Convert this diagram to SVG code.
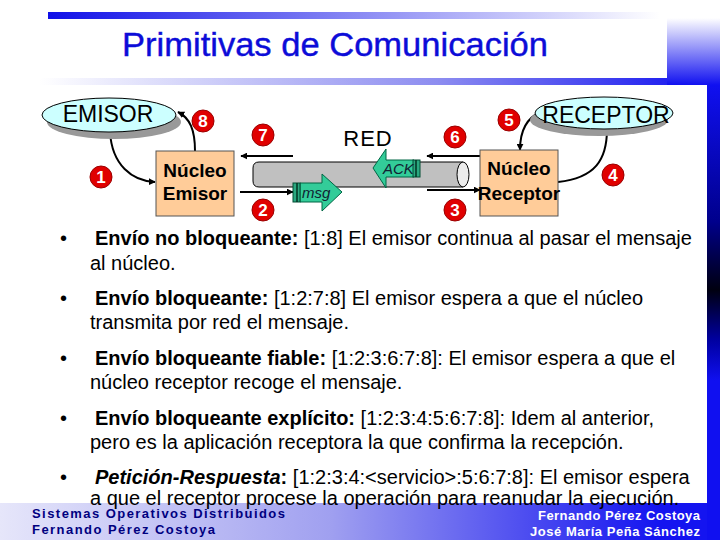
<svg xmlns="http://www.w3.org/2000/svg" width="720" height="540" viewBox="0 0 720 540">
<style>
.t{font-family:"Liberation Sans",Arial,sans-serif}
.b{font-size:20px;fill:#000}
.num{font-family:"Liberation Sans",Arial,sans-serif;font-size:17px;font-weight:bold;fill:#fff;text-anchor:middle}
.dot{fill:#e00000;stroke:#9a0000;stroke-width:1}
.ln{fill:none;stroke:#000;stroke-width:2}
.box{fill:#ffcc99;stroke:#555;stroke-width:1}
.ell{fill:#ccffff;stroke:#000;stroke-width:1}
.sh{fill:#999}
.grn{fill:#33cc99;stroke:#006644;stroke-width:1}
.nk{font-family:"Liberation Sans",Arial,sans-serif;font-size:19px;font-weight:bold;fill:#000;text-anchor:middle}
</style>
<defs>
<marker id="ah" viewBox="0 0 10 10" refX="9" refY="5" markerWidth="7" markerHeight="7" orient="auto" markerUnits="userSpaceOnUse">
<path d="M0,0 L10,5 L0,10 z" fill="#000"/>
</marker>
<linearGradient id="gTop" x1="48" y1="0" x2="660" y2="0" gradientUnits="userSpaceOnUse">
<stop offset="0" stop-color="#1010e8"/><stop offset="1" stop-color="#ffffff"/>
</linearGradient>
<linearGradient id="gUnder" x1="40" y1="0" x2="707" y2="0" gradientUnits="userSpaceOnUse">
<stop offset="0" stop-color="#ffffff"/><stop offset="0.6" stop-color="#8c8cf0"/><stop offset="1" stop-color="#1010f0"/>
</linearGradient>
<linearGradient id="gRight" x1="0" y1="18" x2="0" y2="85" gradientUnits="userSpaceOnUse">
<stop offset="0" stop-color="#ffffff"/><stop offset="1" stop-color="#1010f0"/>
</linearGradient>
<linearGradient id="gBar" x1="0" y1="85" x2="0" y2="540" gradientUnits="userSpaceOnUse">
<stop offset="0" stop-color="#1010f0"/><stop offset="0.3" stop-color="#00008c"/><stop offset="0.45" stop-color="#000010"/><stop offset="0.56" stop-color="#0000a0"/><stop offset="0.65" stop-color="#1010f0"/><stop offset="1" stop-color="#1010f0"/>
</linearGradient>
<linearGradient id="gBot" x1="0" y1="0" x2="660" y2="0" gradientUnits="userSpaceOnUse">
<stop offset="0" stop-color="#e6e6fa"/><stop offset="0.5" stop-color="#a0a0f0"/><stop offset="1" stop-color="#1414f0"/>
</linearGradient>
</defs>
<rect width="720" height="540" fill="#fff"/>
<g id="frame">
<rect x="48" y="12" width="619" height="7" fill="url(#gTop)"/>
<rect x="667" y="18" width="53" height="67" fill="url(#gRight)"/>
<rect x="40" y="78" width="627" height="7" fill="url(#gUnder)"/>
<rect x="707" y="85" width="13" height="455" fill="url(#gBar)"/>
<rect x="0" y="503" width="707" height="37" fill="url(#gBot)"/>
</g>
<text class="t" x="335" y="56" font-size="33" fill="#0c0cd8" text-anchor="middle" stroke="#0c0cd8" stroke-width="0.4" textLength="426" lengthAdjust="spacingAndGlyphs">Primitivas de Comunicación</text>

<g id="connectors">
<path class="ln" d="M110,132 C112,165 132,181 155,182" marker-end="url(#ah)"/>
<path class="ln" d="M195,151 C195,130 190,118 178,112" marker-end="url(#ah)"/>
<path class="ln" d="M293,156 L241,156" marker-end="url(#ah)"/>
<path class="ln" d="M240,192 L293,192" marker-end="url(#ah)"/>
<path class="ln" d="M480,156 L427,156" marker-end="url(#ah)"/>
<path class="ln" d="M427,190 L480,190" marker-end="url(#ah)"/>
<path class="ln" d="M541,112 C526,118 520,132 520,150" marker-end="url(#ah)"/>
<path class="ln" d="M558,182 C595,178 607,160 607,129" marker-end="url(#ah)"/>
</g>

<g id="emisor">
<ellipse class="sh" cx="114" cy="122" rx="67" ry="17"/>
<ellipse class="ell" cx="109" cy="115" rx="67" ry="17"/>
<text class="t" x="108" y="122" font-size="23" text-anchor="middle">EMISOR</text>
</g>
<g id="receptor">
<ellipse class="sh" cx="599" cy="120" rx="69" ry="16"/>
<ellipse class="ell" cx="604" cy="113" rx="69" ry="16"/>
<text class="t" x="606" y="123" font-size="23" text-anchor="middle">RECEPTOR</text>
</g>
<g id="nucleo-emisor">
<rect class="box" x="156" y="151" width="78" height="65"/>
<text class="nk" x="195" y="177">Núcleo</text>
<text class="nk" x="195" y="200">Emisor</text>
</g>
<g id="nucleo-receptor">
<rect class="box" x="480" y="150" width="78" height="66"/>
<text class="nk" x="519" y="175">Núcleo</text>
<text class="nk" x="519" y="200">Receptor</text>
</g>
<g id="red">
<path d="M463,162 L259,162 Q253,162 253,168 L253,181 Q253,187 259,187 L463,187" fill="#c0c0c0" stroke="#000" stroke-width="1"/>
<ellipse cx="463" cy="174.5" rx="6" ry="12.5" fill="#ececec" stroke="#000" stroke-width="1"/>
<text class="t" x="368" y="146" font-size="22" text-anchor="middle" letter-spacing="1">RED</text>
</g>
<g id="ack">
<path class="grn" d="M373,168 L386,149 L386,160 L414,160 L414,177 L386,177 L386,188 z"/>
<rect x="413" y="160" width="7" height="17" fill="#2aa880" stroke="#004d33" stroke-width="1"/>
<line x1="416" y1="160" x2="416" y2="177" stroke="#003322" stroke-width="1.5"/>
<text class="t" x="383" y="174" font-size="15" font-style="italic" fill="#123">ACK</text>
</g>
<g id="msg">
<path class="grn" d="M342,192 L322,174 L322,183 L300,183 L300,202 L322,202 L322,211 z"/>
<rect x="293" y="183" width="7" height="19" fill="#2aa880" stroke="#004d33" stroke-width="1"/>
<line x1="297" y1="183" x2="297" y2="202" stroke="#003322" stroke-width="1.5"/>
<text class="t" x="302" y="198" font-size="15" font-style="italic" fill="#123">msg</text>
</g>
<g id="numbers">
<circle class="dot" cx="203" cy="121" r="11"/><text class="num" x="203" y="127">8</text>
<circle class="dot" cx="263" cy="135" r="11"/><text class="num" x="263" y="141">7</text>
<circle class="dot" cx="101" cy="177" r="11"/><text class="num" x="101" y="183">1</text>
<circle class="dot" cx="263" cy="210" r="11"/><text class="num" x="263" y="216">2</text>
<circle class="dot" cx="455" cy="137" r="11"/><text class="num" x="455" y="143">6</text>
<circle class="dot" cx="455" cy="210" r="11"/><text class="num" x="455" y="216">3</text>
<circle class="dot" cx="509" cy="120" r="11"/><text class="num" x="509" y="126">5</text>
<circle class="dot" cx="613" cy="175" r="11"/><text class="num" x="613" y="181">4</text>
</g>

<g id="bullets" class="t">
<text class="b" x="60" y="245">•</text>
<text class="b" x="95" y="245"><tspan font-weight="bold">Envío no bloqueante:</tspan> [1:8] El emisor continua al pasar el mensaje</text>
<text class="b" x="90" y="270">al núcleo.</text>
<text class="b" x="60" y="305">•</text>
<text class="b" x="95" y="305"><tspan font-weight="bold">Envío bloqueante:</tspan> [1:2:7:8] El emisor espera a que el núcleo</text>
<text class="b" x="90" y="329">transmita por red el mensaje.</text>
<text class="b" x="60" y="365">•</text>
<text class="b" x="95" y="365"><tspan font-weight="bold">Envío bloqueante fiable:</tspan> [1:2:3:6:7:8]: El emisor espera a que el</text>
<text class="b" x="90" y="389">núcleo receptor recoge el mensaje.</text>
<text class="b" x="60" y="425">•</text>
<text class="b" x="95" y="425"><tspan font-weight="bold">Envío bloqueante explícito:</tspan> [1:2:3:4:5:6:7:8]: Idem al anterior,</text>
<text class="b" x="90" y="449">pero es la aplicación receptora la que confirma la recepción.</text>
<text class="b" x="60" y="484">•</text>
<text class="b" x="95" y="484"><tspan font-weight="bold" font-style="italic">Petición-Respuesta</tspan><tspan font-weight="bold">:</tspan> [1:2:3:4:&lt;servicio&gt;:5:6:7:8]: El emisor espera</text>
<text class="b" x="90" y="505">a que el receptor procese la operación para reanudar la ejecución.</text>
</g>
<g id="footer" class="t" font-weight="bold" font-size="13">
<text x="32" y="518" fill="#000080" textLength="253" lengthAdjust="spacing">Sistemas Operativos Distribuidos</text>
<text x="32" y="534" fill="#000080" textLength="183" lengthAdjust="spacing">Fernando Pérez Costoya</text>
<text x="538" y="520" fill="#fff" textLength="162" lengthAdjust="spacing">Fernando Pérez Costoya</text>
<text x="530" y="536" fill="#fff" textLength="170" lengthAdjust="spacing">José María Peña Sánchez</text>
</g>
</svg>
